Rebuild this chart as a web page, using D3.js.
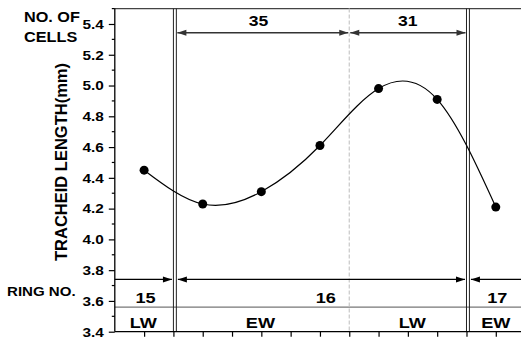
<!DOCTYPE html>
<meta charset="utf-8">
<head>
  <script src="https://d3js.org/d3.v7.min.js"></script>
  <style>
    body { margin: 0; background: #fff; }
    text { font-family: "Liberation Sans", Arial, sans-serif; font-weight: bold; fill: #000; }
  </style>
</head>
<body>
<div id="chart"></div>
<script>
// sample positions along the ring and the measured tracheid lengths (mm)
var positions = [1, 3, 5, 7, 9, 11, 13];
var lengths = [4.45, 4.23, 4.31, 4.61, 4.98, 4.91, 4.21];

var yTicks = [3.4, 3.6, 3.8, 4.0, 4.2, 4.4, 4.6, 4.8, 5.0, 5.2, 5.4];
var xTicks = [1, 2, 3, 4, 5, 6, 7, 8, 9, 10, 11, 12, 13];

// cell counts per zone (top arrows)
var cellLabels = ["35", "31"];
var cellFrom = [2.1, 8];
var cellTo = [8, 12];
var cellLabelX = [4.9, 10];

// ring numbers (bottom arrows)
var ringLabels = ["15", "16", "17"];
var ringLabelX = [1.05, 7.2, 13.05];
// ring boundaries (double lines)
var boundaries = [2, 12];

// wood type row
var woodLabels = ["LW", "EW", "LW", "EW"];
var woodX = [0.97, 4.97, 10.15, 13];

var W = 521, H = 337;
var svg = d3.select("#chart").append("svg")
  .attr("width", W).attr("height", H);

var x = d3.scaleLinear().domain([0, 14]).range([114.8, 525.1]);
var y = d3.scaleLinear().domain([3.4, 5.5]).range([331.7, 8.6]);

// stretched text helper (reference type is horizontally widened)
function label(txt, cx, by, size, sx, anchor) {
  svg.append("text")
    .attr("transform", "translate(" + cx + "," + by + ") scale(" + sx + ",1)")
    .attr("text-anchor", anchor || "middle")
    .style("font-size", size + "px")
    .text(txt);
}

// top border
svg.append("line")
  .attr("x1", x(0)).attr("x2", W).attr("y1", y(5.5)).attr("y2", y(5.5))
  .attr("stroke", "#444").attr("stroke-width", 1.2);

// horizontal separator between ring numbers and wood type
svg.append("line")
  .attr("x1", x(0)).attr("x2", W).attr("y1", y(3.56)).attr("y2", y(3.56))
  .attr("stroke", "#777").attr("stroke-width", 1.2);

// dashed boundary between EW and LW
svg.append("line")
  .attr("x1", x(8)).attr("x2", x(8)).attr("y1", y(5.5)).attr("y2", y(3.4))
  .attr("stroke", "#c8c8c8").attr("stroke-width", 1.2)
  .attr("stroke-dasharray", "4,2");

// ring boundaries: double lines
boundaries.forEach(function(b) {
  [b, b + 0.1].forEach(function(v) {
    svg.append("line")
      .attr("x1", x(v)).attr("x2", x(v)).attr("y1", y(5.5)).attr("y2", y(3.4))
      .attr("stroke", "#222").attr("stroke-width", 1);
  });
});

// arrow heads
function head(px, py, dir, col) {
  var L = 9, h = 3;
  svg.append("path")
    .attr("d", "M" + px + "," + py + "L" + (px - dir * L) + "," + (py - h) +
      "L" + (px - dir * L) + "," + (py + h) + "Z")
    .attr("fill", col);
}
function arrowLine(x0, x1, yy, col, startHead, endHead) {
  svg.append("line")
    .attr("x1", x0).attr("x2", x1).attr("y1", yy).attr("y2", yy)
    .attr("stroke", col).attr("stroke-width", 1.3);
  if (startHead) head(x0, yy, -1, col);
  if (endHead) head(x1, yy, 1, col);
}

// cell count arrows
var yTop = y(5.343);
cellLabels.forEach(function(t, i) {
  arrowLine(x(cellFrom[i]) + 1, x(cellTo[i]) - 1, yTop, "#333", true, true);
  label(t, x(cellLabelX[i]), 26, 15, 1.17);
});

// ring arrows
var yRing = y(3.74);
arrowLine(x(0), x(2) - 1.5, yRing, "#000", false, true);
arrowLine(x(2.1) + 1.5, x(12) - 1.5, yRing, "#000", true, true);
arrowLine(x(12.1) + 1.5, W, yRing, "#000", true, false);
ringLabels.forEach(function(t, i) {
  label(t, x(ringLabelX[i]), 303, 15.5, 1.17);
});

woodLabels.forEach(function(t, i) {
  label(t, x(woodX[i]), 327.5, 15.5, 1.17);
});

// Y axis with minor ticks
var yAxis = svg.append("g")
  .attr("transform", "translate(" + x(0) + ",0)")
  .call(d3.axisLeft(y).tickValues(yTicks).tickSize(6).tickPadding(0)
    .tickFormat(d3.format(".1f")));
yAxis.select(".domain").attr("stroke-width", 1.3).attr("d", "M0," + y(3.4) + "V" + y(5.5));
yAxis.selectAll(".tick line").attr("stroke-width", 1.2);
yAxis.selectAll(".tick text")
  .attr("x", null).attr("dy", null)
  .attr("transform", "translate(-11,4.3) scale(1.28,1)")
  .style("font-size", "12px")
  .style("font-family", "Liberation Sans, Arial, sans-serif")
  .style("font-weight", "bold");
var minors = d3.range(3.5, 5.51, 0.2);
yAxis.selectAll(".minor").data(minors).enter().append("line")
  .attr("x1", -3).attr("x2", 0)
  .attr("y1", function(d) { return y(d); }).attr("y2", function(d) { return y(d); })
  .attr("stroke", "#000").attr("stroke-width", 1.2);

// X axis, ticks only
var xAxis = svg.append("g")
  .attr("transform", "translate(0," + y(3.4) + ")")
  .call(d3.axisBottom(x).tickValues(xTicks).tickSize(5).tickFormat(""));
xAxis.select(".domain").attr("stroke-width", 1.3).attr("d", "M" + x(0) + ",0H" + W);
xAxis.selectAll(".tick line").attr("stroke-width", 1.2);

// smooth curve through the points
var data = positions.map(function(p, i) { return [p, lengths[i]]; });
svg.append("path")
  .datum(data)
  .attr("fill", "none")
  .attr("stroke", "#000")
  .attr("stroke-width", 1.2)
  .attr("d", d3.line().x(function(d) { return x(d[0]); }).y(function(d) { return y(d[1]); })
    .curve(d3.curveNatural));

svg.selectAll(".pt").data(data).enter().append("circle")
  .attr("cx", function(d) { return x(d[0]); })
  .attr("cy", function(d) { return y(d[1]); })
  .attr("r", 4.5)
  .attr("fill", "#000");

// side labels
label("NO. OF", 24, 22, 14, 1.16, "start");
label("CELLS", 24, 42, 14, 1.16, "start");
label("RING NO.", 7, 296, 13, 1.16, "start");

svg.append("text")
  .attr("transform", "translate(67,162) rotate(-90)")
  .attr("text-anchor", "middle")
  .style("font-size", "16.5px")
  .text("TRACHEID LENGTH(mm)");
</script>
</body>
